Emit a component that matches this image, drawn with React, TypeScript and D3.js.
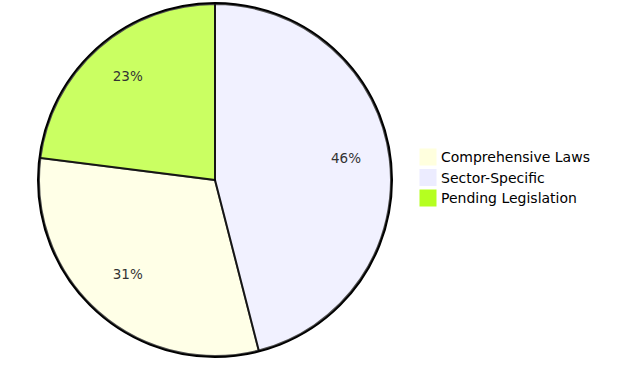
import { useEffect } from "react"
import * as d3 from "d3"

const categories = ["Comprehensive Laws", "Sector-Specific", "Pending Legislation"]
const values = [31, 46, 23]
const colors = ["#ffffde", "#ececff", "#b5ff20"]

const width = 622
const height = 366
const cx = 215
const cy = 180
const radius = 176

export default function App() {
  useEffect(() => {
    document.body.style.margin = "0"
  }, [])

  const data = categories.map((name, i) => ({ name, value: values[i], color: colors[i] }))
  const total = d3.sum(values)

  // d3.pie sorts descending by default, like the reference
  const pie = d3.pie<{ name: string; value: number; color: string }>().value((d) => d.value)
  const arcs = pie(data)
  const arc = d3.arc<d3.PieArcDatum<{ name: string; value: number; color: string }>>()
    .innerRadius(0)
    .outerRadius(radius)
  const labelArc = d3.arc<d3.PieArcDatum<{ name: string; value: number; color: string }>>()
    .innerRadius(radius * 0.75)
    .outerRadius(radius * 0.75)

  const font = "'DejaVu Sans', Verdana, Arial, sans-serif"

  return (
    <svg width={width} height={height} style={{ display: "block", background: "#fff" }}>
      <g transform={`translate(${cx},${cy})`}>
        <circle r={radius + 1} fill="none" stroke="#000" strokeWidth={2} />
        {arcs.map((a) => (
          <path
            key={a.data.name}
            d={arc(a) || ""}
            fill={a.data.color}
            opacity={0.7}
            stroke="#000"
            strokeWidth={2}
          />
        ))}
        {arcs.map((a) => {
          const [x, y] = labelArc.centroid(a)
          return (
            <text
              key={a.data.name}
              x={x}
              y={y}
              textAnchor="middle"
              fontFamily={font}
              fontSize={13.5}
              fill="#333"
            >
              {Math.round((a.data.value / total) * 100)}%
            </text>
          )
        })}
      </g>
      <g transform="translate(420,149)">
        {data.map((d, i) => (
          <g key={d.name} transform={`translate(0,${i * 20.5})`}>
            <rect width={16} height={16} fill={d.color} stroke={d.color} />
            <text x={21} y={13} fontFamily={font} fontSize={14} fill="#000">
              {d.name}
            </text>
          </g>
        ))}
      </g>
    </svg>
  )
}
